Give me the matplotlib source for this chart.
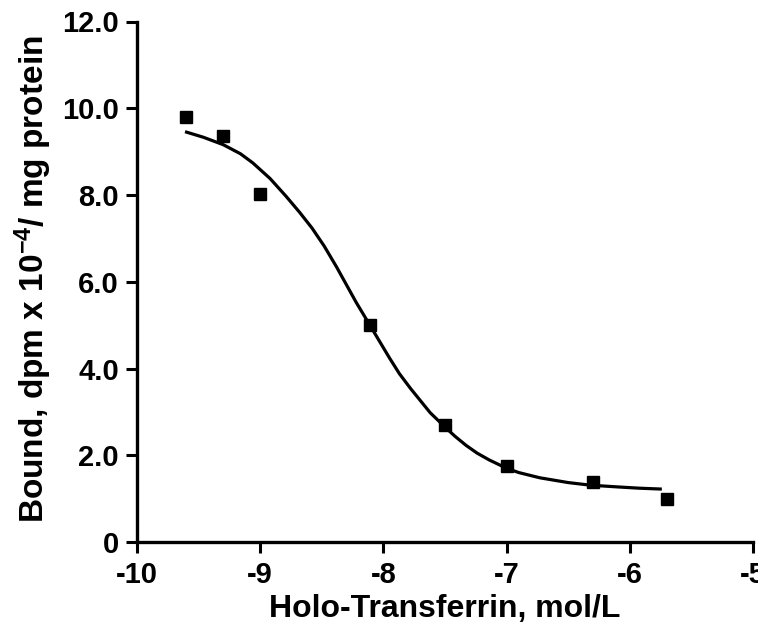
import matplotlib
matplotlib.use('Agg')
import matplotlib.pyplot as plt

# measured points (log concentration vs bound)
conc = [-9.6, -9.3, -9.0, -8.11, -7.5, -7.0, -6.3, -5.7]
bound = [9.8, 9.35, 8.02, 5.0, 2.69, 1.75, 1.38, 1.0]

# fitted curve
fit_x = [-9.61, -9.46, -9.30, -9.16, -9.06, -8.92, -8.79, -8.68, -8.58,
         -8.48, -8.38, -8.22, -8.11, -7.95, -7.87, -7.78, -7.62, -7.50,
         -7.42, -7.33, -7.24, -7.14, -7.00, -6.90, -6.73, -6.50, -6.32,
         -6.10, -5.92, -5.74]
fit_y = [9.46, 9.33, 9.16, 8.95, 8.74, 8.38, 7.97, 7.60, 7.24,
         6.82, 6.34, 5.52, 5.00, 4.24, 3.88, 3.54, 2.98, 2.65,
         2.44, 2.23, 2.05, 1.89, 1.70, 1.60, 1.48, 1.37, 1.31,
         1.27, 1.24, 1.22]

x_ticks = [-10, -9, -8, -7, -6, -5]
x_tick_labels = ['-10', '-9', '-8', '-7', '-6', '-5']
y_ticks = [0, 2, 4, 6, 8, 10, 12]
y_tick_labels = ['0', '2.0', '4.0', '6.0', '8.0', '10.0', '12.0']

plt.rcParams['font.family'] = ['Liberation Sans', 'DejaVu Sans']
plt.rcParams['font.weight'] = 'bold'
plt.rcParams['axes.unicode_minus'] = False
plt.rcParams['mathtext.fontset'] = 'custom'
plt.rcParams['mathtext.rm'] = 'Liberation Sans:bold'
plt.rcParams['mathtext.bf'] = 'Liberation Sans:bold'
plt.rcParams['mathtext.default'] = 'rm'

fig = plt.figure(figsize=(7.58, 6.29), dpi=100)
ax = fig.add_axes([137 / 758, 1 - 542 / 629, 616 / 758, 520.5 / 629])

ax.plot(fit_x, fit_y, color='black', lw=2.3, solid_capstyle='butt',
        solid_joinstyle='round', zorder=2)
ax.plot(conc, bound, ls='none', marker='s', ms=8, color='black', zorder=3)

ax.set_xlim(-10, -5)
ax.set_ylim(0, 12)
ax.set_xticks(x_ticks, x_tick_labels)
ax.set_yticks(y_ticks, y_tick_labels)

for side in ['top', 'right']:
    ax.spines[side].set_visible(False)
for side in ['left', 'bottom']:
    ax.spines[side].set_linewidth(2.4)

ax.tick_params(axis='both', direction='out', length=8, width=2.2,
               labelsize=21)
ax.tick_params(axis='x', pad=6)
ax.tick_params(axis='y', pad=5)

ax.set_xlabel('Holo-Transferrin, mol/L', fontsize=23, fontweight='bold')
ax.set_ylabel('Bound, dpm x 10$^{-4}$/ mg protein', fontsize=24,
              fontweight='bold')
ax.xaxis.set_label_coords(0.5, -0.128)
ax.yaxis.set_label_coords(-0.135, 0.505)
ax.xaxis.label.set_va('center')

fig.savefig('out.png', dpi=100)
